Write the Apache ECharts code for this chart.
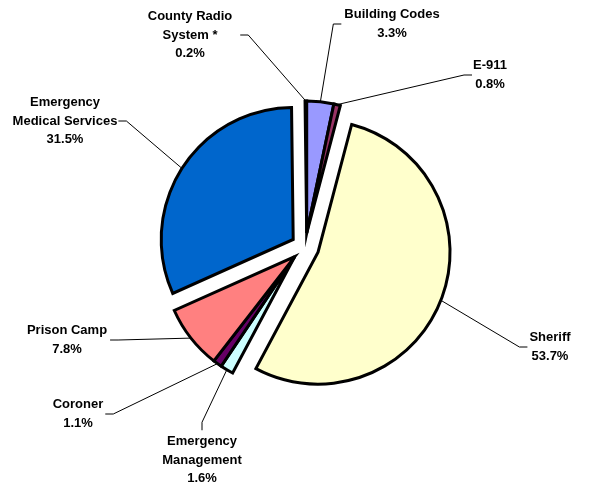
<!DOCTYPE html>
<html>
<head>
<meta charset="utf-8">
<script src="https://cdn.jsdelivr.net/npm/echarts@6/dist/echarts.min.js"></script>
<style>
html,body{margin:0;padding:0;background:#fff;}
#chart{width:589px;height:489px;}
</style>
</head>
<body>
<div id="chart"></div>
<script>
// ---- data ----
const categories = ['County Radio\nSystem *', 'Building Codes', 'E-911', 'Sheriff',
  'Emergency\nManagement', 'Coroner', 'Prison Camp', 'Emergency\nMedical Services'];
const shares = [0.2, 3.3, 0.8, 53.7, 1.6, 1.1, 7.8, 31.5];
const sliceColors = ['#CCCCFF', '#9999FF', '#993366', '#FFFFCC', '#CCFFFF', '#660066', '#FF8080', '#0066CC'];
// slices exploded together
const groups = [[0, 1, 2], [3], [4, 5, 6], [7]];

// ---- layout (not data) ----
const baseCenter = [305, 247];
const pieRadius = 132;
const explode = 14;
const labelLayoutCfg = [
  { x: 190, y: 35, side: 'right', gap: 8 },
  { x: 392, y: 24, side: 'left', gap: 3 },
  { x: 490, y: 75, side: 'left', gap: 1 },
  { x: 550, y: 347, side: 'left', gap: 2 },
  { x: 202, y: 460, side: 'top', gap: 2 },
  { x: 78, y: 414, side: 'right', gap: 2 },
  { x: 67, y: 340, side: 'right', gap: 3 },
  { x: 65, y: 121, side: 'right', gap: 1 }
];
const segLen = 8;

const total = shares.reduce((a, b) => a + b, 0);
// start so that the first slice ends exactly at 12 o'clock
const startAngle = 90 + shares[0] / total * 360;
const cum = [0];
shares.forEach((v, i) => cum.push(cum[i] + v));

const chart = echarts.init(document.getElementById('chart'), null, { renderer: 'canvas' });

const series = groups.map((g, gi) => {
  const a0 = cum[g[0]], a1 = cum[g[g.length - 1] + 1];
  // clockwise angle from 12 o'clock, degrees
  const mid = -(shares[0] / total * 360) + (a0 + a1) / 2 / total * 360;
  const rad = mid * Math.PI / 180;
  const c = [baseCenter[0] + explode * Math.sin(rad), baseCenter[1] - explode * Math.cos(rad)];
  return {
    type: 'pie',
    silent: true,
    animation: false,
    center: c,
    radius: pieRadius,
    startAngle: startAngle,
    clockwise: true,
    avoidLabelOverlap: false,
    minAngle: 0,
    label: {
      show: true,
      position: 'outside',
      color: '#000',
      fontFamily: 'Arial, "Liberation Sans", sans-serif',
      fontWeight: 'bold',
      fontSize: 13,
      lineHeight: 18.5,
      align: 'center',
      formatter: p => p.name + '\n' + p.value.toFixed(1) + '%'
    },
    labelLine: { show: true, length: 10, length2: 10, smooth: false,
      lineStyle: { color: '#000', width: 1 } },
    labelLayout: function (params) {
      const cfg = labelLayoutCfg[params.dataIndex];
      const w = params.labelRect.width, h = params.labelRect.height;
      let p2, p1;
      if (cfg.side === 'right') {
        p2 = [cfg.x + w / 2 + cfg.gap, cfg.y];
        p1 = [p2[0] + segLen, p2[1]];
      } else if (cfg.side === 'left') {
        p2 = [cfg.x - w / 2 - cfg.gap, cfg.y];
        p1 = [p2[0] - segLen, p2[1]];
      } else {
        p2 = [cfg.x, cfg.y - h / 2 - cfg.gap];
        p1 = [p2[0], p2[1] - segLen];
      }
      const p0 = params.labelLinePoints ? params.labelLinePoints[0] : p1;
      return {
        x: cfg.x, y: cfg.y, align: 'center', verticalAlign: 'middle',
        labelLinePoints: [p0, p1, p2]
      };
    },
    itemStyle: { borderColor: '#000', borderWidth: 3, borderJoin: 'miter' },
    emphasis: { disabled: true },
    data: categories.map((name, i) => {
      const inGroup = g.indexOf(i) >= 0;
      const item = { name: name, value: shares[i] };
      if (inGroup) {
        item.itemStyle = { color: sliceColors[i] };
      } else {
        item.itemStyle = { color: 'rgba(0,0,0,0)', borderWidth: 0 };
        item.label = { show: false };
        item.labelLine = { show: false };
      }
      return item;
    })
  };
});

chart.setOption({
  backgroundColor: '#ffffff',
  animation: false,
  series: series
});
</script>
</body>
</html>
